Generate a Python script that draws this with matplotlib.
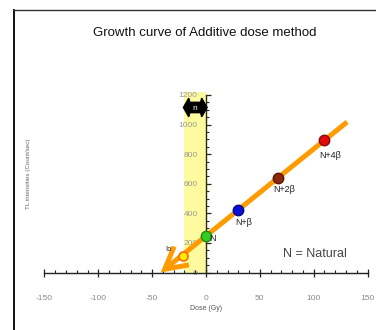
import numpy as np
import matplotlib
matplotlib.use("Agg")
import matplotlib.pyplot as plt
from matplotlib.lines import Line2D
from matplotlib.patches import Polygon, Rectangle
from matplotlib.ticker import FixedLocator

plt.rcParams['font.family'] = ['Liberation Sans', 'DejaVu Sans']

# Measured points: dose (Gy) vs TL intensity (counts/sec)
labels = ["N", "N+β", "N+2β", "N+4β"]
doses = [0, 30, 67, 110]
intensities = [250, 420, 640, 895]
face_colors = ["#33cc22", "#0a10d8", "#8a2a0a", "#e00c0c"]
edge_colors = ["#1c8a10", "#050a80", "#5a1505", "#8a0606"]

# Extrapolated equivalent-dose marker
io_dose = -21
io_intensity = 110

# Slider band (dose range) and its handle height
band_dose = [-20, 0]
band_top = 1220

x_ticks = [-150, -100, -50, 0, 50, 100, 150]
y_ticks = [0, 200, 400, 600, 800, 1000, 1200]
line_end_dose = 131

W, H, DPI = 376, 330, 100
fig = plt.figure(figsize=(W / DPI, H / DPI), dpi=DPI)
ax = fig.add_axes([0, 0, 1, 1])

# pixel scale: 1.077 px per Gy, 0.148 px per count; origin at (206, 272.5)
px_gy, px_ct = 1.077, 0.148
ax.set_xlim(-206 / px_gy, (W - 206) / px_gy)
ax.set_ylim(-(H - 272.5) / px_ct, 272.5 / px_ct)
ax.patch.set_visible(False)

for s in ("top", "right"):
    ax.spines[s].set_visible(False)
ax.spines["bottom"].set_position(("data", 0))
ax.spines["left"].set_position(("data", 0))
ax.spines["bottom"].set_bounds(x_ticks[0], x_ticks[-1])
ax.spines["left"].set_bounds(y_ticks[0], y_ticks[-1])
ax.spines["bottom"].set_color("#222222")
ax.spines["left"].set_color("#2a2a10")
ax.spines["bottom"].set_linewidth(1.0)
ax.spines["left"].set_linewidth(1.0)

ax.set_xticks(x_ticks)
ax.set_xticklabels([str(v) for v in x_ticks])
ax.set_yticks(y_ticks)
ax.set_yticklabels([str(v) for v in y_ticks])
ax.xaxis.set_minor_locator(FixedLocator(np.arange(x_ticks[0], x_ticks[-1] + 1, 10)))
ax.yaxis.set_minor_locator(FixedLocator(np.arange(y_ticks[0], y_ticks[-1] + 1, 50)))
ax.tick_params(axis="x", which="major", direction="inout", length=6, width=0.9,
               color="#222222", labelsize=6, labelcolor="#888888", pad=13)
ax.tick_params(axis="x", which="minor", direction="in", length=2.5, width=0.8,
               color="#222222")
ax.tick_params(axis="y", which="major", direction="in", length=3.5, width=0.9,
               color="#2a2a10", labelsize=6, labelcolor="#999999", pad=6)
ax.tick_params(axis="y", which="minor", direction="in", length=2, width=0.8,
               color="#2a2a10")

# yellow dose band
ax.add_patch(Rectangle((band_dose[0], 0), band_dose[1] - band_dose[0], band_top,
                       facecolor="#fdfb9e", edgecolor="none", zorder=0))

# slider handle
b0, b1 = band_dose
mid = 1115
handle = [(b0 - 1, mid), (b0 + 4, mid + 63), (b0 + 5, mid + 35), (b1 - 5, mid + 35),
          (b1 - 4, mid + 63), (b1 + 1, mid), (b1 - 4, mid - 63), (b1 - 5, mid - 35),
          (b0 + 5, mid - 35), (b0 + 4, mid - 63)]
ax.add_patch(Polygon(handle, closed=True, facecolor="black", edgecolor="black",
                     zorder=4))
ax.text((b0 + b1) / 2, mid - 8, "n", color="white", fontsize=6, ha="center",
        va="center", zorder=5)

# regression line extrapolated to zero intensity
slope, intercept = np.polyfit(doses, intensities, 1)
x_cross = -intercept / slope
ax.annotate("", xy=(x_cross, 0), xytext=(line_end_dose, slope * line_end_dose + intercept),
            arrowprops=dict(arrowstyle="->,head_length=1.55,head_width=0.85",
                            color="#ff9a00", lw=3.6, shrinkA=0, shrinkB=0,
                            capstyle="butt", joinstyle="miter"),
            zorder=2)

# measured points
for d, v, fc, ec in zip(doses, intensities, face_colors, edge_colors):
    ax.plot(d, v, "o", ms=7.5, mfc=fc, mec=ec, mew=1.0, zorder=3)
ax.plot(io_dose, io_intensity, "o", ms=6.5, mfc="#ffee00", mec="#ff6a00", mew=1.2,
        zorder=3)

# point labels
offsets = [(7, -3), (5, -12), (6, -12), (6, -15)]
for lab, d, v, (ox, oy) in zip(labels, doses, intensities, offsets):
    ax.annotate(lab, (d, v), xytext=(ox, oy), textcoords="offset pixels",
                fontsize=6.5, color="#222222", ha="center", va="center", zorder=6)
ax.annotate("Io", (io_dose, io_intensity), xytext=(-15, 7), textcoords="offset pixels",
            fontsize=5.5, color="#222222", ha="center", va="center", zorder=6)

ax.text(101, 125, "N = Natural", fontsize=9, color="#444444", ha="center",
        va="center")

fig.text(205 / W, 1 - 33 / H, "Growth curve of Additive dose method", fontsize=9.5,
         color="#111111", ha="center", va="center")
fig.text(206 / W, 1 - 309 / H, "Dose (Gy)", fontsize=5, color="#555555",
         ha="center", va="center")
fig.text(29 / W, 1 - 174 / H, "TL intensities (Count/sec)", fontsize=4.5,
         color="#666666", ha="center", va="center", rotation=90)

# outer frame
fig.add_artist(Line2D([14 / W, 14 / W], [0, 1 - 10 / H], color="black", lw=1.3,
                      transform=fig.transFigure))
fig.add_artist(Line2D([14 / W, 1], [1 - 10 / H, 1 - 10 / H], color="#333333", lw=1.0,
                      transform=fig.transFigure))

fig.savefig("out.png", dpi=DPI)
